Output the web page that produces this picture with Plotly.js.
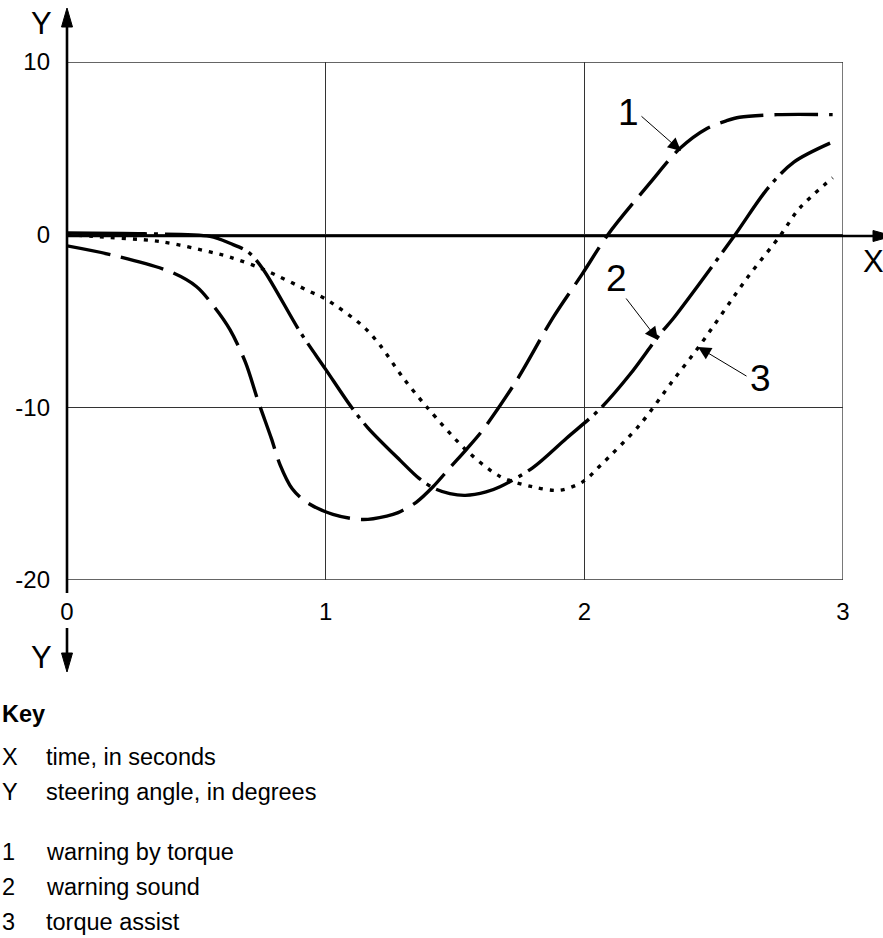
<!DOCTYPE html>
<html><head><meta charset="utf-8">
<script src="https://cdn.plot.ly/plotly-3.0.1.min.js"></script>
<style>html,body{margin:0;padding:0;background:#fff}</style>
</head><body><div id="chart" style="width:883px;height:938px"></div>
<script>
// Data (time in s, steering angle in degrees)
const t1 = [0, 0.18, 0.4, 0.5, 0.565, 0.63, 0.69, 0.738, 0.79, 0.823, 0.87, 0.927, 1.028, 1.145, 1.236, 1.28, 1.35, 1.415, 1.48, 1.546, 1.608, 1.74, 1.879, 1.991, 2.091, 2.254, 2.37, 2.474, 2.55, 2.60, 2.745, 2.96];
const v1 = [-0.65, -1.2, -2.15, -3.0, -4.1, -5.5, -7.4, -9.6, -11.8, -13.3, -14.7, -15.5, -16.2, -16.5, -16.3, -16.1, -15.5, -14.6, -13.5, -12.4, -11.3, -8.4, -4.8, -2.3, 0, 3.0, 5.0, 6.15, 6.6, 6.8, 6.95, 6.95];
const t2 = [0, 0.3, 0.553, 0.63, 0.70, 0.758, 0.90, 1.0, 1.10, 1.164, 1.29, 1.36, 1.42, 1.48, 1.54, 1.62, 1.674, 1.80, 1.93, 2.06, 2.176, 2.29, 2.343, 2.447, 2.583, 2.71, 2.81, 2.95];
const v2 = [0.1, 0.05, -0.1, -0.5, -1.0, -2.0, -5.6, -7.8, -10.0, -11.2, -13.1, -14.1, -14.7, -15.0, -15.1, -14.9, -14.6, -13.5, -11.8, -10.1, -8.1, -5.8, -4.87, -2.8, 0, 2.7, 4.2, 5.3];
const t3 = [0, 0.1, 0.36, 0.553, 0.63, 0.758, 0.94, 0.997, 1.144, 1.21, 1.30, 1.392, 1.545, 1.674, 1.80, 1.905, 1.995, 2.06, 2.215, 2.34, 2.447, 2.63, 2.76, 2.83, 2.96];
const v3 = [0.0, -0.1, -0.4, -1.0, -1.3, -2.0, -3.3, -3.7, -5.3, -6.4, -8.3, -10.0, -12.5, -14.0, -14.6, -14.8, -14.3, -13.4, -11.0, -8.5, -6.4, -2.5, 0, 1.5, 3.3];

const xTicks = [0, 1, 2, 3];
const yTicks = [-20, -10, 0, 10];
const keyLabels = ['X', 'Y', '', '1', '2', '3'];
const keyTexts = ['time, in seconds', 'steering angle, in degrees', '', 'warning by torque', 'warning sound', 'torque assist'];
const seriesLabels = ['1', '2', '3'];

// layout geometry (pixels)
const L = 67, R = 40, T = 62, B = 358, W = 883, H = 938;
const PW = W - L - R, PH = H - T - B;
const px2x = p => (p - L) / PW;      // paper x
const py2y = p => (H - B - p) / PH;  // paper y
const dx = p => (p - L) / PW * 3;    // data x
const dy = p => 10 - (p - T) / PH * 30; // data y
const Y0 = 236; // pixel row of y = 0

const lineCol = '#000';
const traces = [
  {x: t1, y: v1, mode: 'lines', line: {color: lineCol, width: 3.4, dash: '44px,11px', shape: 'spline', smoothing: 0.9}},
  {x: t2, y: v2, mode: 'lines', line: {color: lineCol, width: 3.4, dash: '80px,7px,4px,7px', shape: 'spline', smoothing: 0.9}},
  {x: t3, y: v3, mode: 'lines', line: {color: lineCol, width: 3.4, dash: '4px,7px', shape: 'spline', smoothing: 0.9}}
];

const numFont = {family: 'Liberation Sans Narrow, Liberation Sans, sans-serif', size: 37, color: '#000'};
const axFont = {family: 'Liberation Sans Narrow, Liberation Sans, sans-serif', size: 31, color: '#000'};
const txtFont = {family: 'Liberation Sans, Arial, sans-serif', size: 23.5, color: '#000'};

const annotations = [];
const P = (px, py, text, font, xa) => ({xref: 'paper', yref: 'paper', x: px2x(px), y: py2y(py), text: text, showarrow: false, font: font, xanchor: xa || 'center', yanchor: 'middle'});
// axis letters
annotations.push(P(41, 23, 'Y', axFont));
annotations.push(P(41, 657, 'Y', axFont));
annotations.push(P(873, 261, 'X', axFont));
// series labels with leader arrows
const labPos = [[628, 112], [616, 278], [760, 378]];
const arrTip = [[681, 151], [658, 340], [698, 347]];
const arrTail = [[640, 115], [625, 297], [748, 377]];
for (let i = 0; i < 3; i++) {
  annotations.push(P(labPos[i][0], labPos[i][1], seriesLabels[i], numFont));
  annotations.push({xref: 'x', yref: 'y', x: dx(arrTip[i][0]), y: dy(arrTip[i][1]), text: '', showarrow: true,
    ax: arrTail[i][0] - arrTip[i][0], ay: arrTail[i][1] - arrTip[i][1], arrowhead: 2, arrowsize: 2.6, arrowwidth: 1, arrowcolor: '#000', standoff: 0});
}
// key
annotations.push(P(0, 714, '<b>Key</b>', txtFont, 'left'));
const rowY = [757, 792, 0, 852, 887, 922];
for (let i = 0; i < keyLabels.length; i++) {
  if (!keyLabels[i]) continue;
  annotations.push(P(0, rowY[i], keyLabels[i], txtFont, 'left'));
  annotations.push(P(44, rowY[i], keyTexts[i], txtFont, 'left'));
}

const head = (pts) => 'M' + pts.map(p => p[0] + ',' + p[1]).join(' L') + ' Z';
const shapes = [
  {type: 'rect', xref: 'x', yref: 'y', x0: 0, x1: 3, y0: -20, y1: 10, line: {color: '#333', width: 1.3}, layer: 'below'},
  // y axis line and arrowhead
  {type: 'line', xref: 'paper', yref: 'paper', x0: 0, x1: 0, y0: py2y(593), y1: py2y(24), line: {color: '#000', width: 2.6}},
  {type: 'path', xref: 'paper', yref: 'paper', xsizemode: 'pixel', ysizemode: 'pixel', xanchor: 0, yanchor: py2y(Y0),
    path: head([[-5.5, Y0 - 27], [5.5, Y0 - 27], [0, Y0 - 8]]), fillcolor: '#000', line: {color: '#000', width: 1}},
  // x axis line and arrowhead
  {type: 'line', xref: 'paper', yref: 'paper', x0: 0, x1: px2x(876), y0: py2y(Y0), y1: py2y(Y0), line: {color: '#000', width: 2.6}},
  {type: 'path', xref: 'paper', yref: 'paper', xsizemode: 'pixel', ysizemode: 'pixel', xanchor: 0, yanchor: py2y(Y0),
    path: head([[873 - L, 5.5], [873 - L, -5.5], [893 - L, 0]]), fillcolor: '#000', line: {color: '#000', width: 1}},
  // downward Y arrow below the chart
  {type: 'line', xref: 'paper', yref: 'paper', x0: 0, x1: 0, y0: py2y(628), y1: py2y(660), line: {color: '#000', width: 2.6}},
  {type: 'path', xref: 'paper', yref: 'paper', xsizemode: 'pixel', ysizemode: 'pixel', xanchor: 0, yanchor: py2y(Y0),
    path: head([[-5.5, Y0 - 653], [5.5, Y0 - 653], [0, Y0 - 672]]), fillcolor: '#000', line: {color: '#000', width: 1}}
];

const tickFont = {family: 'Liberation Sans, Arial, sans-serif', size: 24, color: '#000'};
const layout = {
  width: W, height: H,
  margin: {l: L, r: R, t: T, b: B},
  paper_bgcolor: '#fff', plot_bgcolor: '#fff',
  showlegend: false,
  xaxis: {range: [0, 3], tickvals: xTicks, ticktext: xTicks.map(String), showgrid: true, gridcolor: '#333', gridwidth: 1.2,
    zeroline: false, showline: false, ticks: '', ticklabelstandoff: 15, tickfont: tickFont, fixedrange: true},
  yaxis: {range: [-20, 10], tickvals: yTicks, ticktext: yTicks.map(String), showgrid: true, gridcolor: '#333', gridwidth: 1.2,
    zeroline: false, showline: false, ticks: '', ticklabelstandoff: 16, tickfont: tickFont, fixedrange: true},
  annotations: annotations,
  shapes: shapes
};

Plotly.newPlot('chart', traces, layout, {displayModeBar: false, staticPlot: true});
</script>
</body></html>
